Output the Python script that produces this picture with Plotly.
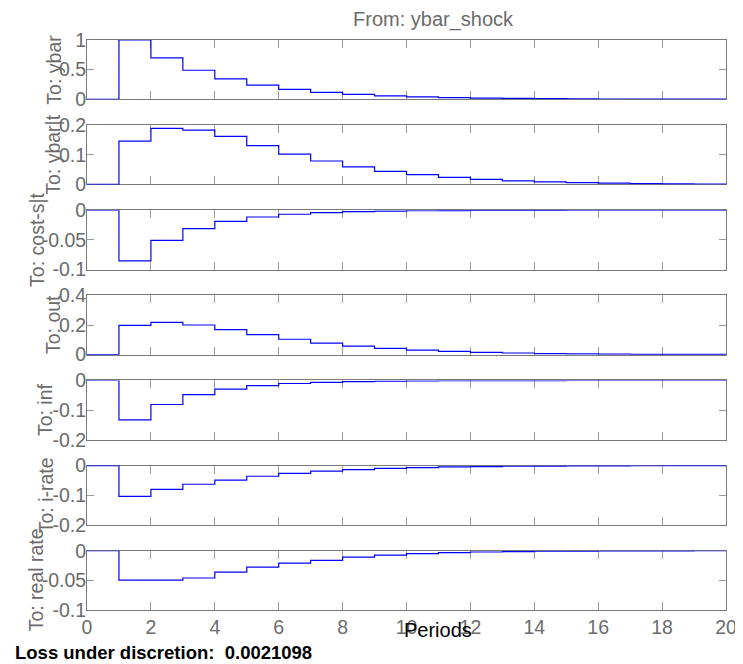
import plotly.graph_objects as go

periods = list(range(0, 21))

panel_labels = ["To: ybar", "To: ybar|t", "To: cost-s|t", "To: out", "To: inf", "To: i-rate", "To: real rate"]

ybar = [0, 1.0, 0.70, 0.49, 0.343, 0.24, 0.168, 0.118, 0.082, 0.058, 0.040, 0.028, 0.020,
        0.014, 0.0097, 0.0068, 0.0047, 0.0033, 0.0023, 0.0016, 0.0011]
ybar_t = [0, 0.146, 0.189, 0.183, 0.162, 0.131, 0.102, 0.079, 0.059, 0.044, 0.033, 0.024,
          0.017, 0.012, 0.0085, 0.006, 0.0042, 0.003, 0.002, 0.0014, 0.001]
cost_s_t = [0, -0.0855, -0.051, -0.031, -0.0187, -0.0114, -0.0068, -0.0041, -0.0025, -0.0015,
            -0.0009, -0.00055, -0.00033, -0.0002, -0.00012, -0.00007, -0.00004, -0.00003,
            -0.00002, -0.00001, 0]
out = [0, 0.198, 0.218, 0.200, 0.169, 0.135, 0.104, 0.078, 0.058, 0.042, 0.030, 0.022, 0.015,
       0.011, 0.0075, 0.0052, 0.0036, 0.0025, 0.0017, 0.0012, 0.0008]
inf = [0, -0.133, -0.081, -0.048, -0.029, -0.0172, -0.0103, -0.0062, -0.0037, -0.0022, -0.0013,
       -0.0008, -0.0005, -0.0003, -0.0002, -0.0001, -0.00006, -0.00004, -0.00002, -0.00001, 0]
i_rate = [0, -0.104, -0.080, -0.063, -0.049, -0.036, -0.026, -0.019, -0.0135, -0.0095, -0.0067,
          -0.0047, -0.0033, -0.0023, -0.0016, -0.0011, -0.0008, -0.0005, -0.0004, -0.0003, -0.0002]
real_rate = [0, -0.0497, -0.0495, -0.046, -0.036, -0.0278, -0.021, -0.0162, -0.011, -0.0075,
             -0.005, -0.0033, -0.0022, -0.0014, -0.0009, -0.0006, -0.0004, -0.0003, -0.0002,
             -0.0001, 0]

series = [ybar, ybar_t, cost_s_t, out, inf, i_rate, real_rate]
y_ranges = [[0, 1], [0, 0.2], [-0.1, 0], [0, 0.4], [-0.2, 0], [-0.2, 0], [-0.1, 0]]
y_ticks = [[0, 0.5, 1], [0, 0.1, 0.2], [-0.1, -0.05, 0], [0, 0.2, 0.4],
           [-0.2, -0.1, 0], [-0.2, -0.1, 0], [-0.1, -0.05, 0]]
x_ticks = list(range(0, 21, 2))

title_text = "From: ybar_shock"
xlabel_text = "Periods"
loss_text = "Loss under discretion:\u00a0\u00a00.0021098"

# page body has an 8px margin, so the figure is drawn at (8, 8)
OFF = 8
W, H = 743 - OFF, 664 - OFF
ML, MR, MT, MB = 87 - OFF, 17, 40 - OFF, 54
plot_h = H - MT - MB
plot_w = W - ML - MR
panel_px = 59.3
step_px = (plot_h - panel_px) / 6
label_x_px = [54, 53, 37, 53, 45, 46, 36]


def px_x(px):
    return (px - OFF - ML) / plot_w


def px_y(px):
    return 1 - (px - OFF - MT) / plot_h


FONT = "Liberation Sans, Arial, Helvetica, sans-serif"
GREY = "#6b6b6b"
AXIS = "#7a7a7a"
TICK = "#9a9a9a"

fig = go.Figure()
layout = dict(
    width=W, height=H,
    margin=dict(l=ML, r=MR, t=MT, b=MB, autoexpand=False),
    paper_bgcolor="white", plot_bgcolor="white",
    showlegend=False,
    font=dict(family=FONT, size=19.5, color=GREY),
)

annotations = []
for i, vals in enumerate(series):
    n = i + 1
    xa = "x" if n == 1 else f"x{n}"
    ya = "y" if n == 1 else f"y{n}"
    fig.add_trace(go.Scatter(x=periods, y=vals, mode="lines", line_shape="hv",
                             line=dict(color="#0000ff", width=1.2),
                             xaxis=xa, yaxis=ya, hoverinfo="skip"))
    top = min(1.0, 1 - (step_px * i) / plot_h)
    bot = max(0.0, 1 - (step_px * i + panel_px) / plot_h)
    last = (i == len(series) - 1)
    layout[f"xaxis{n}" if n > 1 else "xaxis"] = dict(
        domain=[0, 1], anchor=ya, range=[0, 20], automargin=False,
        tickvals=x_ticks, ticks="inside", ticklen=8, tickcolor=TICK, tickwidth=1,
        showticklabels=last, ticklabelstandoff=0,
        showline=True, linecolor=AXIS, linewidth=1, mirror="allticks",
        showgrid=False, zeroline=False, layer="below traces",
        tickfont=dict(size=19.5, color=GREY),
    )
    layout[f"yaxis{n}" if n > 1 else "yaxis"] = dict(
        domain=[bot, top], anchor=xa, range=y_ranges[i], automargin=False,
        tickvals=y_ticks[i], ticktext=[("%g" % v) for v in y_ticks[i]],
        ticks="inside", ticklen=7, tickcolor=TICK, tickwidth=1,
        ticklabelstandoff=-4,
        showline=True, linecolor=AXIS, linewidth=1, mirror="allticks",
        showgrid=False, zeroline=False, layer="below traces",
        tickfont=dict(size=19.5, color=GREY),
    )
    annotations.append(dict(
        text=panel_labels[i], textangle=-90, showarrow=False,
        xref="paper", yref="paper",
        x=px_x(label_x_px[i]), y=(top + bot) / 2,
        xanchor="center", yanchor="middle",
        font=dict(size=19.5, color=GREY, family=FONT),
    ))

annotations.append(dict(text=title_text, showarrow=False, xref="paper", yref="paper",
                        x=px_x(434), y=px_y(20),
                        xanchor="center", yanchor="middle",
                        font=dict(size=20, color=GREY, family=FONT)))
annotations.append(dict(text=xlabel_text, showarrow=False, xref="paper", yref="paper",
                        x=px_x(437.5), y=px_y(630),
                        xanchor="center", yanchor="middle",
                        font=dict(size=20, color="black", family=FONT)))
annotations.append(dict(text="<b>" + loss_text + "</b>", showarrow=False,
                        xref="paper", yref="paper",
                        x=px_x(13), y=px_y(652),
                        xanchor="left", yanchor="middle",
                        font=dict(size=18.5, color="black", family=FONT)))
layout["annotations"] = annotations
fig.update_layout(**layout)
fig.write_html("out.html")
